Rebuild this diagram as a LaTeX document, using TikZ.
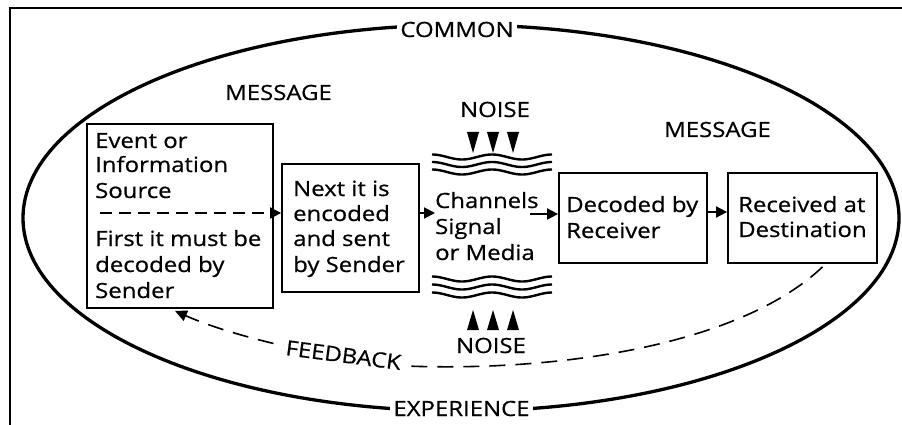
\documentclass[tikz,border=0pt]{standalone}
\usepackage{fontspec}
\setmainfont{Open Sans}[FakeStretch=1.14,FakeBold=0.6]
\usetikzlibrary{arrows.meta}
\begin{document}
\begin{tikzpicture}[x=1pt,y=-1pt,
  box/.style={draw, line width=1.8pt, fill=white, inner sep=0pt},
  txt/.style={anchor=base west, inner sep=0pt, font=\fontsize{21}{25}\selectfont},
  lbl/.style={anchor=base, inner xsep=3pt, inner ysep=1pt, fill=white, font=\fontsize{21}{25}\selectfont},
  arr/.style={line width=1.8pt, -{Triangle[length=11pt,width=11pt]}},
  wave/.style={line width=2.4pt},
  tri/.style={fill=black}
]
\useasboundingbox (0,0) rectangle (902,425);
% frame
\draw[line width=2.2pt] (10,425) -- (10,8) -- (902,8);
% common experience ellipse
\draw[line width=3.3pt] (461,218) ellipse [x radius=438, y radius=193];
\node[lbl] (common) at (457,37) {COMMON};
\node[lbl] (exper) at (461.5,416) {EXPERIENCE};
% message labels
\node[txt] (msg1) at (225,100) {MESSAGE};
\node[txt] (msg2) at (664,137) {MESSAGE};
% boxes
\node[box, minimum width=186pt, minimum height=184pt] (b1) at (180,216) {};
\node[box, minimum width=137pt, minimum height=128pt] (b2) at (350.5,228) {};
\node[box, minimum width=148pt, minimum height=90pt] (b3) at (633,218) {};
\node[box, minimum width=149pt, minimum height=90pt] (b4) at (802.5,218) {};
% box 1 text
\node[txt] (t1a) at (95,148) {Event or};
\node[txt] (t1b) at (95,172) {Information};
\node[txt] (t1c) at (95,198) {Source};
\node[txt] (t1d) at (95,246) {First it must be};
\node[txt] (t1e) at (95,272) {decoded by};
\node[txt] (t1f) at (95,298) {Sender};
% box 2 text
\node[txt] (t2a) at (293,196) {Next it is};
\node[txt] (t2b) at (293,221) {encoded};
\node[txt] (t2c) at (293,246) {and sent};
\node[txt] (t2d) at (293,272) {by Sender};
% channel text
\node[txt] (ch1) at (435,208) {Channels};
\node[txt] (ch2) at (435,234) {Signal};
\node[txt] (ch3) at (435,260) {or Media};
% box 3, 4 text
\node[txt] (t3a) at (566,212) {Decoded by};
\node[txt] (t3b) at (566,238) {Receiver};
\node[txt] (t4a) at (738,212) {Received at};
\node[txt] (t4b) at (738,237) {Destination};
% noise
\node[txt, anchor=base] (n1) at (495,117) {NOISE};
\node[txt, anchor=base] (n2) at (491,353) {NOISE};
\foreach \xx in {473,493,513} {
  \fill (\xx-6,132) -- (\xx+6,132) -- (\xx,153) -- cycle;
  \fill (\xx-6,330) -- (\xx+6,330) -- (\xx,310) -- cycle;
}
\foreach \yy in {157,164.5,172,279,287,295}
  \draw[wave] plot[domain=432:552,samples=60] (\x,{\yy-2.5*cos(6*(\x-432))});
% connectors
\coordinate (s1) at (100,213);
\draw[arr, dash pattern=on 12pt off 7pt] (s1) -- ([yshift=15pt]b2.west);
\draw[arr] ([yshift=15pt]b2.east) -- (ch1.west |- s1);
\coordinate (s3) at (530,214);
\draw[arr] (s3) -- (s3 -| b3.west);
\draw[arr] ([yshift=6pt]b3.east) -- ([yshift=6pt]b4.west);
% feedback
\draw[line width=1.6pt, dash pattern=on 16pt off 10pt, -{Triangle[length=12pt,width=11pt]}]
  ([xshift=20pt,yshift=-3pt]b4.south) .. controls (740,345) and (560,372) .. (405,366)
  .. controls (350,362) and (240,340) .. ([xshift=-5pt,yshift=-2pt]b1.south);
\node[lbl, rotate=-7.4] (fb) at (342.5,362.5) {FEEDBACK};
\end{tikzpicture}
\end{document}
